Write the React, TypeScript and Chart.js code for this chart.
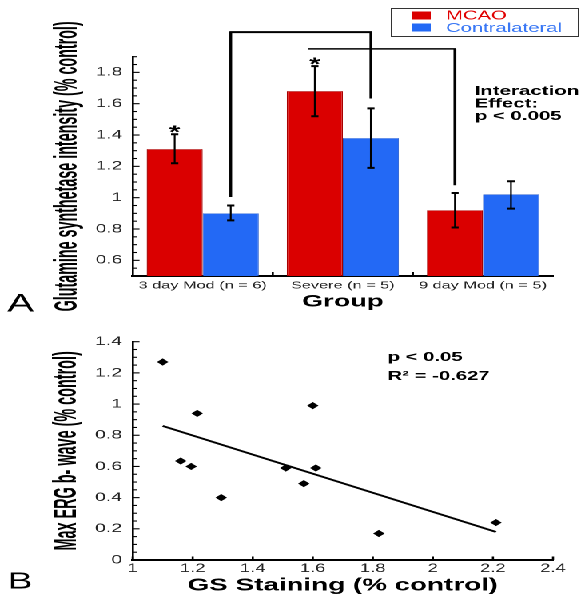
import React, { useEffect, useRef } from 'react';
import { Chart, registerables } from 'chart.js';

Chart.register(...registerables);

// ---------- Panel A data ----------
const groups = ['3 day Mod (n = 6)', 'Severe (n = 5)', '9 day Mod (n = 5)'];
const mcaoValues = [1.31, 1.68, 0.92];
const mcaoErrLow = [1.22, 1.52, 0.81];
const mcaoErrHigh = [1.405, 1.84, 1.03];
const contraValues = [0.9, 1.38, 1.02];
const contraErrLow = [0.855, 1.19, 0.93];
const contraErrHigh = [0.95, 1.57, 1.105];
const mcaoStars = [true, true, false];
const topYTicks = [0.6, 0.8, 1, 1.2, 1.4, 1.6, 1.8];
const topYTickLabels = ['0.6', '0.8', '1', '1.2', '1.4', '1.6', '1.8'];
const topYTitle = 'Glutamine synthetase intensity (% control)';
const topXTitle = 'Group';
// brackets: [fromDataset, fromCategory, fromValue, topValue, toDataset, toCategory, toValue]
const bracket1 = [1, 0, 1.004, 2.057, 1, 1, 1.633];
const bracket2 = [0, 1, 1.95, 1.95, 0, 2, 1.079];

// ---------- Panel B data ----------
const gsStaining = [1.1, 1.215, 1.16, 1.195, 1.295, 1.51, 1.57, 1.6, 1.61, 1.82, 2.21];
const ergBWave = [1.27, 0.94, 0.635, 0.6, 0.4, 0.59, 0.49, 0.99, 0.59, 0.17, 0.24];
const trendX = [1.1, 2.21];
const trendY = [0.86, 0.18];
const botXTicks = [1, 1.2, 1.4, 1.6, 1.8, 2, 2.2, 2.4];
const botXTickLabels = ['1', '1.2', '1.4', '1.6', '1.8', '2', '2.2', '2.4'];
const botYTicks = [0, 0.2, 0.4, 0.6, 0.8, 1, 1.2, 1.4];
const botYTickLabels = ['0', '0.2', '0.4', '0.6', '0.8', '1', '1.2', '1.4'];
const botYTitle = 'Max ERG b- wave (% control)';
const botXTitle = 'GS Staining (% control)';

const W = 366;
const STRETCH = 585 / W;
const FAM = "'Liberation Sans', Arial, Helvetica, sans-serif";
const RED = '#DA0000';
const BLUE = '#2369F5';

function labelFor(ticks: number[], labels: string[]) {
  return (value: any) => {
    const i = ticks.findIndex((t) => Math.abs(t - Number(value)) < 1e-9);
    return i >= 0 ? labels[i] : '';
  };
}

function drawInsideYTicks(chart: any, minorStep: number, majorStep: number) {
  const ctx = chart.ctx;
  const y = chart.scales.y;
  const left = chart.chartArea.left;
  const n = Math.round((y.max - y.min) / minorStep);
  ctx.save();
  ctx.strokeStyle = '#000';
  ctx.lineWidth = 1.1;
  for (let k = 0; k <= n; k++) {
    const v = y.min + k * minorStep;
    const r = v / majorStep;
    const major = Math.abs(r - Math.round(r)) < 1e-6;
    const py = y.getPixelForValue(v);
    ctx.beginPath();
    ctx.moveTo(left, py);
    ctx.lineTo(left + (major ? 4.3 : 2.6), py);
    ctx.stroke();
  }
  ctx.restore();
}

// condensed bold vertical axis title
function drawYTitle(chart: any, text: string, cx: number, size: number, squeeze: number) {
  const ctx = chart.ctx;
  const ca = chart.chartArea;
  ctx.save();
  ctx.translate(cx, (ca.top + ca.bottom) / 2);
  ctx.rotate(-Math.PI / 2);
  ctx.scale(squeeze, 1);
  ctx.font = `bold ${size}px ${FAM}`;
  ctx.fillStyle = '#000';
  ctx.textAlign = 'center';
  ctx.textBaseline = 'middle';
  ctx.fillText(text, 0, 0);
  ctx.restore();
}

const topDecor = {
  id: 'topDecor',
  afterDatasetsDraw(chart: any) {
    const ctx = chart.ctx;
    const y = chart.scales.y;
    const x = chart.scales.x;
    const metas = [chart.getDatasetMeta(0), chart.getDatasetMeta(1)];
    ctx.save();
    ctx.strokeStyle = '#000';
    // error bars
    const drawErr = (meta: any, lo: number[], hi: number[]) => {
      meta.data.forEach((bar: any, i: number) => {
        const cx = bar.x;
        const yl = y.getPixelForValue(lo[i]);
        const yh = y.getPixelForValue(hi[i]);
        ctx.lineWidth = 1.1;
        ctx.beginPath();
        ctx.moveTo(cx, yl);
        ctx.lineTo(cx, yh);
        ctx.stroke();
        ctx.lineWidth = 2;
        ctx.beginPath();
        ctx.moveTo(cx - 2.3, yl);
        ctx.lineTo(cx + 2.3, yl);
        ctx.moveTo(cx - 2.3, yh);
        ctx.lineTo(cx + 2.3, yh);
        ctx.stroke();
      });
    };
    drawErr(metas[0], mcaoErrLow, mcaoErrHigh);
    drawErr(metas[1], contraErrLow, contraErrHigh);

    // asterisks
    ctx.fillStyle = '#000';
    ctx.font = `bold 18px ${FAM}`;
    ctx.textAlign = 'center';
    ctx.textBaseline = 'alphabetic';
    metas[0].data.forEach((bar: any, i: number) => {
      if (mcaoStars[i]) ctx.fillText('*', bar.x, y.getPixelForValue(mcaoErrHigh[i]) + 4.5);
    });

    // brackets
    const b1 = bracket1;
    const x1a = metas[b1[0]].data[b1[1]].x;
    const x1b = metas[b1[4]].data[b1[5]].x;
    const yTop1 = y.getPixelForValue(b1[3]);
    ctx.lineWidth = 1.7;
    ctx.beginPath();
    ctx.moveTo(x1a, y.getPixelForValue(b1[2]));
    ctx.lineTo(x1a, yTop1);
    ctx.moveTo(x1b, yTop1);
    ctx.lineTo(x1b, y.getPixelForValue(b1[6]));
    ctx.stroke();
    ctx.lineWidth = 2;
    ctx.beginPath();
    ctx.moveTo(x1a - 0.8, yTop1);
    ctx.lineTo(x1b + 0.8, yTop1);
    ctx.stroke();

    const b2 = bracket2;
    const x2a = metas[b2[0]].data[b2[1]].x - 4;
    const x2b = metas[b2[4]].data[b2[5]].x;
    const yTop2 = y.getPixelForValue(b2[3]);
    ctx.lineWidth = 1.4;
    ctx.beginPath();
    ctx.moveTo(x2a, yTop2);
    ctx.lineTo(x2b + 0.8, yTop2);
    ctx.stroke();
    ctx.lineWidth = 1.8;
    ctx.beginPath();
    ctx.moveTo(x2b, yTop2);
    ctx.lineTo(x2b, y.getPixelForValue(b2[6]));
    ctx.stroke();

    // category boundary ticks on x axis (inside)
    const bottom = chart.chartArea.bottom;
    ctx.lineWidth = 1.3;
    for (let i = 0; i < groups.length - 1; i++) {
      const bx = (x.getPixelForValue(i) + x.getPixelForValue(i + 1)) / 2;
      ctx.beginPath();
      ctx.moveTo(bx, bottom);
      ctx.lineTo(bx, bottom - 4);
      ctx.stroke();
    }

    // legend box
    ctx.lineWidth = 1;
    ctx.strokeStyle = '#333';
    ctx.strokeRect(245, 8.5, 117, 28);
    ctx.fillStyle = RED;
    ctx.fillRect(258, 11.5, 11.5, 8);
    ctx.fillStyle = BLUE;
    ctx.fillRect(258, 23.5, 11.5, 8);
    ctx.font = `12.7px ${FAM}`;
    ctx.textAlign = 'left';
    ctx.textBaseline = 'middle';
    ctx.fillStyle = '#E00000';
    ctx.fillText('MCAO', 279, 16);
    ctx.fillStyle = '#3A78F5';
    ctx.fillText('Contralateral', 279, 28.5);

    // interaction text
    ctx.fillStyle = '#000';
    ctx.font = `bold 12.8px ${FAM}`;
    ctx.fillText('Interaction', 297, 91.5);
    ctx.fillText('Effect:', 297, 104);
    ctx.fillText('p < 0.005', 297, 116.5);

    // panel letter
    ctx.font = `25px ${FAM}`;
    ctx.textBaseline = 'alphabetic';
    ctx.fillText('A', 4.5, 311.5);
    ctx.restore();
  },
  afterDraw(chart: any) {
    drawInsideYTicks(chart, 0.05, 0.2);
    drawYTitle(chart, topYTitle, 42.3, 20, 0.715);
  },
};

const botDecor = {
  id: 'botDecor',
  afterDraw(chart: any) {
    drawInsideYTicks(chart, 0.05, 0.2);
    drawYTitle(chart, botYTitle, 42, 20, 0.72);
    const ctx = chart.ctx;
    const x = chart.scales.x;
    const bottom = chart.chartArea.bottom;
    ctx.save();
    ctx.strokeStyle = '#000';
    ctx.lineWidth = 1.3;
    botXTicks.forEach((v) => {
      const px = x.getPixelForValue(v);
      ctx.beginPath();
      ctx.moveTo(px, bottom);
      ctx.lineTo(px, bottom - 3.5);
      ctx.stroke();
    });
    ctx.fillStyle = '#000';
    ctx.font = `bold 12.7px ${FAM}`;
    ctx.textAlign = 'left';
    ctx.textBaseline = 'middle';
    ctx.fillText('p < 0.05', 242.5, 47.5);
    ctx.fillText('R\u00B2 = -0.627', 242.5, 66.5);
    ctx.font = `23px ${FAM}`;
    ctx.textBaseline = 'alphabetic';
    ctx.fillText('B', 5, 278.3);
    ctx.restore();
  },
};

export default function App() {
  const topRef = useRef<HTMLCanvasElement | null>(null);
  const botRef = useRef<HTMLCanvasElement | null>(null);

  useEffect(() => {
    const topChart = new Chart(topRef.current as HTMLCanvasElement, {
      type: 'bar',
      data: {
        labels: groups,
        datasets: [
          { label: 'MCAO', data: mcaoValues, backgroundColor: RED, borderColor: '#A80000', borderWidth: 0.7, categoryPercentage: 0.8, barPercentage: 1 },
          { label: 'Contralateral', data: contraValues, backgroundColor: BLUE, borderColor: '#1E55C8', borderWidth: 0.5, categoryPercentage: 0.8, barPercentage: 1 },
        ],
      },
      options: {
        animation: false,
        responsive: true,
        maintainAspectRatio: false,
        devicePixelRatio: 2,
        layout: { padding: { left: 0, right: 20, top: 56.7, bottom: 0 } },
        plugins: { legend: { display: false }, tooltip: { enabled: false } },
        scales: {
          x: {
            grid: { display: false, drawTicks: false },
            border: { display: true, color: '#000', width: 2 },
            ticks: { font: { family: FAM, size: 10.2 }, color: '#222', padding: 3.5, maxRotation: 0, autoSkip: false },
            title: {
              display: true,
              text: topXTitle,
              color: '#000',
              font: { family: FAM, size: 17, weight: 'bold' },
              padding: { top: 0, bottom: 17.8 },
            },
            afterFit: (s: any) => { s.height = 54; },
          },
          y: {
            min: 0.5,
            max: 1.9,
            grid: { display: false, drawTicks: false },
            border: { display: true, color: '#000', width: 1.3 },
            afterBuildTicks: (s: any) => { s.ticks = topYTicks.map((v) => ({ value: v })); },
            ticks: { callback: labelFor(topYTicks, topYTickLabels), font: { family: FAM, size: 12 }, color: '#222', padding: 6.5 },
            title: { display: false },
            afterFit: (s: any) => { s.width = 83; },
          },
        },
      } as any,
      plugins: [topDecor],
    });

    const botChart = new Chart(botRef.current as HTMLCanvasElement, {
      type: 'scatter',
      data: {
        datasets: [
          {
            label: 'Data',
            data: gsStaining.map((v, i) => ({ x: v, y: ergBWave[i] })),
            pointStyle: 'rectRot',
            pointRadius: 3.6,
            backgroundColor: '#000',
            borderColor: '#000',
            borderWidth: 0,
          },
          {
            label: 'Fit',
            data: trendX.map((v, i) => ({ x: v, y: trendY[i] })),
            showLine: true,
            pointRadius: 0,
            borderColor: '#000',
            borderWidth: 1.8,
            fill: false,
          },
        ],
      },
      options: {
        animation: false,
        responsive: true,
        maintainAspectRatio: false,
        devicePixelRatio: 2,
        layout: { padding: { left: 0, right: 20, top: 31.7, bottom: 0 } },
        plugins: { legend: { display: false }, tooltip: { enabled: false } },
        scales: {
          x: {
            type: 'linear',
            min: 1,
            max: 2.4,
            grid: { display: false, drawTicks: false },
            border: { display: true, color: '#000', width: 2 },
            afterBuildTicks: (s: any) => { s.ticks = botXTicks.map((v) => ({ value: v })); },
            ticks: { callback: labelFor(botXTicks, botXTickLabels), font: { family: FAM, size: 11.5 }, color: '#222', padding: 2, maxRotation: 0 },
            title: {
              display: true,
              text: botXTitle,
              color: '#000',
              font: { family: FAM, size: 17.4, weight: 'bold' },
              padding: { top: 0, bottom: 4.8 },
            },
            afterFit: (s: any) => { s.height = 41; },
          },
          y: {
            min: 0,
            max: 1.4,
            grid: { display: false, drawTicks: false },
            border: { display: true, color: '#000', width: 1.3 },
            afterBuildTicks: (s: any) => { s.ticks = botYTicks.map((v) => ({ value: v })); },
            ticks: { callback: labelFor(botYTicks, botYTickLabels), font: { family: FAM, size: 12.3 }, color: '#222', padding: 6.5 },
            title: { display: false },
            afterFit: (s: any) => { s.width = 83; },
          },
        },
      } as any,
      plugins: [botDecor],
    });

    return () => {
      topChart.destroy();
      botChart.destroy();
    };
  }, []);

  return (
    <div
      style={{
        position: 'absolute',
        left: 0,
        top: 0,
        width: W,
        height: 601,
        transform: `scaleX(${STRETCH})`,
        transformOrigin: '0 0',
        background: '#fff',
      }}
    >
      <div style={{ position: 'absolute', left: 0, top: 0, width: W, height: 330 }}>
        <canvas ref={topRef} />
      </div>
      <div style={{ position: 'absolute', left: 0, top: 310, width: W, height: 291 }}>
        <canvas ref={botRef} />
      </div>
    </div>
  );
}
